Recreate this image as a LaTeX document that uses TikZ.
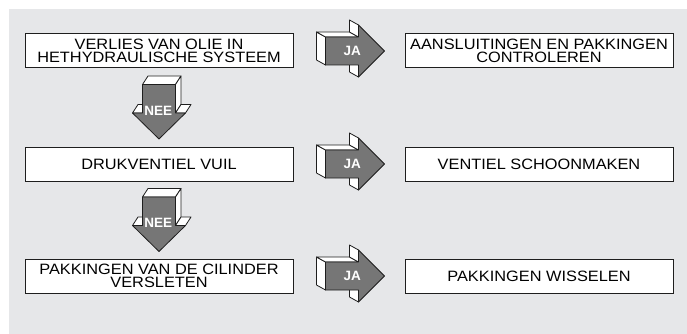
\documentclass[tikz,border=0pt]{standalone}
\usepackage{fontspec}
\setmainfont{Liberation Sans}[FakeStretch=1.09]
\newfontfamily\lblfont{Liberation Sans}
\usetikzlibrary{positioning,calc}
\definecolor{Bgray}{RGB}{230,231,233}
\definecolor{Amid}{RGB}{118,118,118}
\definecolor{Lline}{RGB}{30,30,30}
\tikzset{
    stepbox/.style={
        rectangle, draw=Lline, line width=1pt, fill=white, text=black,
        minimum width=268pt, minimum height=34pt, inner sep=0pt,
        align=center, font=\fontsize{15}{13.5}\selectfont
    },
    aface/.style={fill=white, draw=Lline, line width=0.8pt, line join=round},
    afront/.style={fill=Amid, draw=Lline, line width=0.8pt, line join=round},
    albl/.style={text=white, inner sep=0pt, font=\lblfont\bfseries\fontsize{13.5}{13.5}\selectfont},
    % 3D block arrow pointing right
    jaarrow/.pic={
        \path[aface] (-23.5,-14) -- (-23.5,14) -- (-32.5,9) -- (-32.5,-19) -- cycle;
        \path[aface] (-23.5,-14) -- (9.5,-14) -- (0.5,-19) -- (-32.5,-19) -- cycle;
        \path[aface] (9.5,-26) -- (9.5,-14) -- (0.5,-19) -- (0.5,-31) -- cycle;
        \path[aface] (9.5,14) -- (9.5,26) -- (0.5,21) -- (0.5,9) -- cycle;
        \path[afront] (-23.5,-14) -- (9.5,-14) -- (9.5,-26) -- (35.5,0)
            -- (9.5,26) -- (9.5,14) -- (-23.5,14) -- cycle;
        \node[albl] (-lbl) at (3.2,0) {JA};
    },
    % 3D block arrow pointing down
    neearrow/.pic={
        \path[aface] (-16.5,-23) -- (16.5,-23) -- (22,-31.5) -- (-11,-31.5) -- cycle;
        \path[aface] (16.5,-23) -- (16.5,5.5) -- (22,-3) -- (22,-31.5) -- cycle;
        \path[aface] (-26.5,5.5) -- (-16.5,5.5) -- (-11,-3) -- (-21,-3) -- cycle;
        \path[aface] (16.5,5.5) -- (26.5,5.5) -- (32,-3) -- (22,-3) -- cycle;
        \path[afront] (-16.5,-23) -- (16.5,-23) -- (16.5,5.5) -- (26.5,5.5)
            -- (0,31.5) -- (-26.5,5.5) -- (-16.5,5.5) -- cycle;
        \node[albl] (-lbl) at (-0.7,3.3) {NEE};
    },
}

\begin{document}
\begin{tikzpicture}[x=1pt, y=-1pt]

    \useasboundingbox (0,0) rectangle (687,334);
    \fill[Bgray] (9,9) rectangle (687,334);

    % -- linker kolom: oorzaken --
    \node[stepbox] (v1) at (159,51) {VERLIES VAN OLIE IN\\HETHYDRAULISCHE SYSTEEM};
    \node[stepbox, below=78pt of v1] (v2) {DRUKVENTIEL VUIL};
    \node[stepbox, below=77pt of v2] (v3) {PAKKINGEN VAN DE CILINDER\\VERSLETEN};

    % -- rechter kolom: oplossingen --
    \node[stepbox, right=111pt of v1] (a1) {AANSLUITINGEN EN PAKKINGEN\\CONTROLEREN};
    \node[stepbox, right=111pt of v2] (a2) {VENTIEL SCHOONMAKEN};
    \node[stepbox, right=111pt of v3] (a3) {PAKKINGEN WISSELEN};

    % -- pijlen JA --
    \foreach \i in {1,2,3}
        \path ($(v\i.east)!0.5!(a\i.west)$) pic (ja\i) {jaarrow};

    % -- pijlen NEE --
    \path ($(v1.south)!0.5!(v2.north)$) pic (nee1) {neearrow};
    \path ($(v2.south)!0.5!(v3.north)$) pic (nee2) {neearrow};

\end{tikzpicture}
\end{document}
